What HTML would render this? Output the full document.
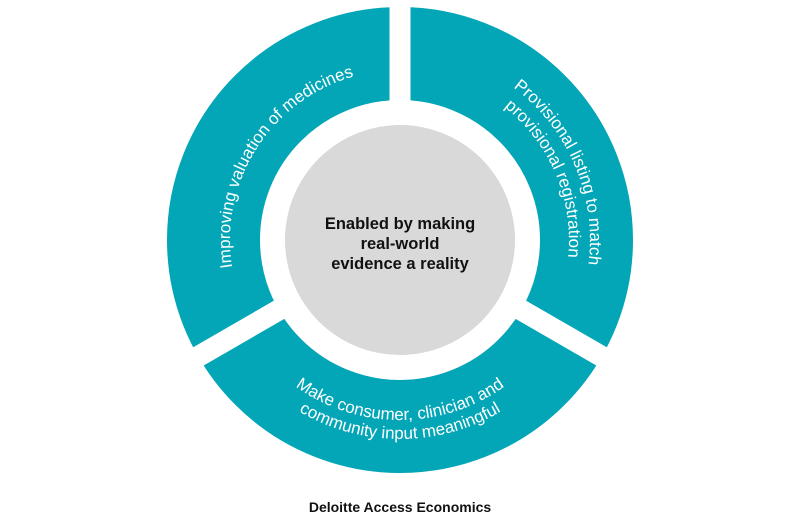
<!DOCTYPE html>
<html><head><meta charset="utf-8"><style>
html,body{margin:0;padding:0;background:#fff;width:800px;height:520px;overflow:hidden}
svg{display:block}
</style></head><body>
<svg width="800" height="520" viewBox="0 0 800 520" xmlns="http://www.w3.org/2000/svg">
<defs>
<path id="pl" d="M252.8,325 A170,170 0 0 1 414.8,70.6"/>
<path id="pr1" d="M423.2,51.4 A190,190 0 0 1 551.7,354.3"/>
<path id="pr2" d="M420.6,72.3 A169,169 0 0 1 535,341.7"/>
<path id="pb1" d="M244.1,330 A180,180 0 0 0 555.9,330"/>
<path id="pb2" d="M227.7,339.5 A199,199 0 0 0 572.3,339.5"/>
</defs>
<circle cx="400" cy="240" r="186.5" fill="none" stroke="#02a6b7" stroke-width="93"/>
<g fill="#fff">
<rect x="-10.5" y="0" width="21" height="250" transform="translate(400,240) rotate(180)"/>
<rect x="-10.5" y="0" width="21" height="250" transform="translate(400,240) rotate(-60)"/>
<rect x="-10.5" y="0" width="21" height="250" transform="translate(400,240) rotate(60)"/>
</g>
<circle cx="400" cy="240" r="115" fill="#d9d9d9"/>
<g font-family="Liberation Sans, sans-serif" font-size="17" fill="#fff">
<text><textPath href="#pl" startOffset="50%" text-anchor="middle">Improving valuation of medicines</textPath></text>
<text><textPath href="#pr1" startOffset="50%" text-anchor="middle">Provisional listing to match</textPath></text>
<text><textPath href="#pr2" startOffset="50%" text-anchor="middle">provisional registration</textPath></text>
<text><textPath href="#pb1" startOffset="50%" text-anchor="middle">Make consumer, clinician and</textPath></text>
<text><textPath href="#pb2" startOffset="50%" text-anchor="middle">community input meaningful</textPath></text>
</g>
<g font-family="Liberation Sans, sans-serif" font-size="16.5" font-weight="bold" fill="#111" text-anchor="middle">
<text x="400" y="229">Enabled by making</text>
<text x="400" y="249">real-world</text>
<text x="400" y="269">evidence a reality</text>
</g>
<text x="400" y="512" font-family="Liberation Sans, sans-serif" font-size="14" font-weight="bold" fill="#111" text-anchor="middle">Deloitte Access Economics</text>
</svg>
</body></html>
